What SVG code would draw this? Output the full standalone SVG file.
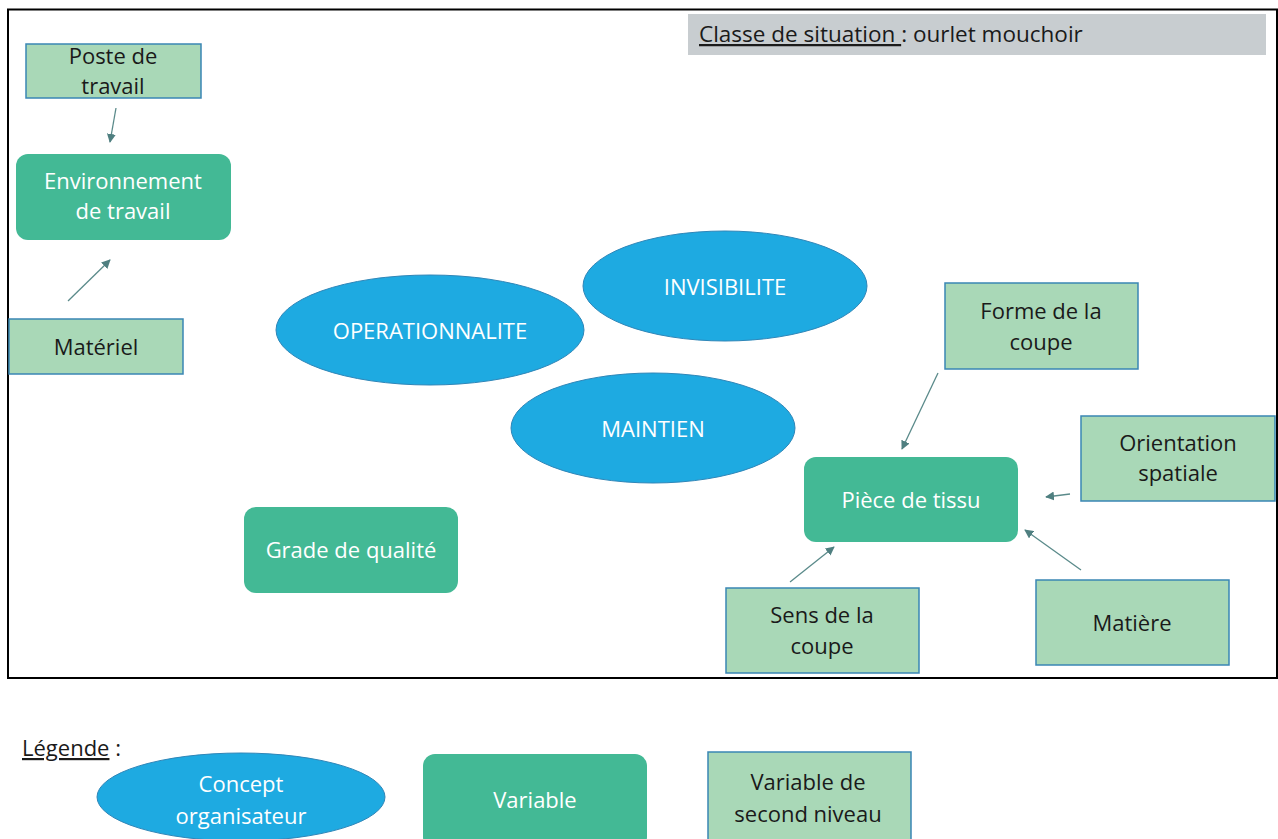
<svg xmlns="http://www.w3.org/2000/svg" width="1278" height="839" viewBox="0 0 1278 839">
<defs>
<style>
text{font-family:"Open Sans",Lato,"Liberation Sans",sans-serif;font-size:22px;text-anchor:middle;}
.dk{fill:#1a1a1a;}
.wt{fill:#ffffff;}
.v2{fill:#a9d8b7;stroke:#3a86b4;stroke-width:1.5;}
.var{fill:#43b995;}
.cpt{fill:#1eaae1;stroke:#2f86b8;stroke-width:1;}
.con{stroke:#5a8a8a;stroke-width:1.3;fill:none;marker-end:url(#ah);}
</style>
<marker id="ah" viewBox="0 0 10 10" refX="9" refY="5" markerWidth="9" markerHeight="9" markerUnits="userSpaceOnUse" orient="auto">
<path d="M0,0 L10,5 L0,10 z" fill="#4f7f80"/>
</marker>
</defs>
<rect width="1278" height="839" fill="#ffffff"/>
<rect x="8" y="9.5" width="1269" height="668.5" fill="none" stroke="#000" stroke-width="2"/>
<g id="title">
<rect x="688" y="14" width="578" height="41" fill="#c8cdd0"/>
<text x="699" y="42" class="dk" style="text-anchor:start;font-size:22.5px"><tspan text-decoration="underline">Classe de situation </tspan>: ourlet mouchoir</text>
</g>
<g id="connectors">
<line class="con" x1="116" y1="108" x2="110" y2="142"/>
<line class="con" x1="68" y1="301" x2="110" y2="260"/>
<line class="con" x1="938" y1="373" x2="902" y2="449"/>
<line class="con" x1="1070" y1="494" x2="1046" y2="497"/>
<line class="con" x1="1081" y1="570" x2="1025" y2="530"/>
<line class="con" x1="790" y1="582" x2="834" y2="547"/>
</g>
<g id="poste">
<rect class="v2" x="26" y="44" width="175" height="54"/>
<text class="dk" x="113" y="64">Poste de</text>
<text class="dk" x="113" y="94">travail</text>
</g>
<g id="environnement">
<rect class="var" x="16" y="154" width="215" height="86" rx="12"/>
<text class="wt" x="123" y="189">Environnement</text>
<text class="wt" x="123" y="219">de travail</text>
</g>
<g id="materiel">
<rect class="v2" x="9" y="319" width="174" height="55"/>
<text class="dk" x="96" y="355">Matériel</text>
</g>
<g id="operationnalite">
<ellipse class="cpt" cx="430" cy="330" rx="154" ry="55"/>
<text class="wt" x="430" y="339">OPERATIONNALITE</text>
</g>
<g id="invisibilite">
<ellipse class="cpt" cx="725" cy="286" rx="142" ry="55"/>
<text class="wt" x="725" y="295">INVISIBILITE</text>
</g>
<g id="maintien">
<ellipse class="cpt" cx="653" cy="428" rx="142" ry="55"/>
<text class="wt" x="653" y="437">MAINTIEN</text>
</g>
<g id="grade">
<rect class="var" x="244" y="507" width="214" height="86" rx="12"/>
<text class="wt" x="351" y="558">Grade de qualité</text>
</g>
<g id="piece">
<rect class="var" x="804" y="457" width="214" height="85" rx="12"/>
<text class="wt" x="911" y="508">Pièce de tissu</text>
</g>
<g id="forme">
<rect class="v2" x="945" y="283" width="193" height="86"/>
<text class="dk" x="1041" y="319">Forme de la</text>
<text class="dk" x="1041" y="350">coupe</text>
</g>
<g id="orientation">
<rect class="v2" x="1081" y="416" width="194" height="85"/>
<text class="dk" x="1178" y="451">Orientation</text>
<text class="dk" x="1178" y="481">spatiale</text>
</g>
<g id="matiere">
<rect class="v2" x="1036" y="580" width="193" height="85"/>
<text class="dk" x="1132" y="631">Matière</text>
</g>
<g id="sens">
<rect class="v2" x="726" y="588" width="193" height="85"/>
<text class="dk" x="822" y="623">Sens de la</text>
<text class="dk" x="822" y="654">coupe</text>
</g>
<g id="legende">
<text class="dk" x="22" y="756" style="text-anchor:start"><tspan text-decoration="underline">Légende</tspan> :</text>
</g>
<g id="leg-concept">
<ellipse class="cpt" cx="241" cy="797" rx="144" ry="44"/>
<text class="wt" x="241" y="792">Concept</text>
<text class="wt" x="241" y="824">organisateur</text>
</g>
<g id="leg-variable">
<rect class="var" x="423" y="754" width="224" height="95" rx="12"/>
<text class="wt" x="535" y="808">Variable</text>
</g>
<g id="leg-variable2">
<rect class="v2" x="708" y="752" width="203" height="95"/>
<text class="dk" x="808" y="790">Variable de</text>
<text class="dk" x="808" y="822">second niveau</text>
</g>
</svg>
